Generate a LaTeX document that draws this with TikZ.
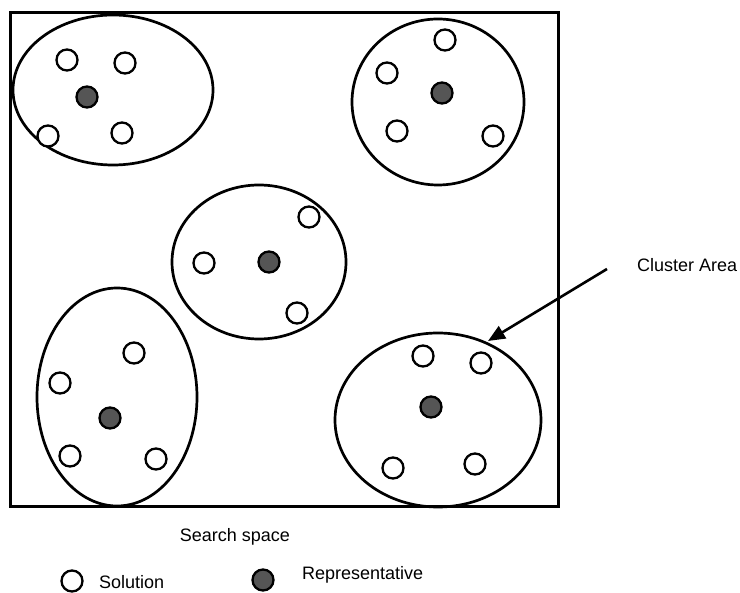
\documentclass[tikz,border=0pt]{standalone}
\usepackage{fontspec}
\setmainfont{Liberation Sans}
\usetikzlibrary{shapes.geometric,arrows.meta}
\tikzset{
  sol/.style={circle,draw,line width=2.3pt,fill=white,minimum size=21pt,inner sep=0pt},
  rep/.style={circle,draw,line width=2.3pt,fill=repgray,minimum size=21pt,inner sep=0pt},
  clus/.style={ellipse,draw,line width=2.7pt,inner sep=0pt},
  lbl/.style={font=\fontsize{18}{20}\selectfont,inner sep=0pt}
}
\definecolor{repgray}{HTML}{555555}
\begin{document}
\begin{tikzpicture}[x=1pt,y=-1pt]
\useasboundingbox (0,0) rectangle (740,593);
\node[draw,line width=3pt,minimum width=548pt,minimum height=494pt,inner sep=0pt] (space) at (284,260) {};
% cluster 1
\node[clus,minimum width=200pt,minimum height=150pt] (c1) at (113,90) {};
\node[sol] (s11) at (67,60) {};
\node[sol] (s12) at (125,63) {};
\node[rep] (r1) at (87,97) {};
\node[sol] (s13) at (48,136) {};
\node[sol] (s14) at (122,133) {};
% cluster 2
\node[clus,minimum width=172pt,minimum height=166pt] (c2) at (438,102) {};
\node[sol] (s21) at (445,40) {};
\node[sol] (s22) at (387,73) {};
\node[rep] (r2) at (442,93) {};
\node[sol] (s23) at (397,131) {};
\node[sol] (s24) at (493,136) {};
% cluster 3
\node[clus,minimum width=174pt,minimum height=154pt] (c3) at (259,262) {};
\node[sol] (s31) at (309,217) {};
\node[sol] (s32) at (204,263) {};
\node[rep] (r3) at (269,262) {};
\node[sol] (s33) at (297,313) {};
% cluster 4
\node[clus,minimum width=160pt,minimum height=218pt] (c4) at (117,397) {};
\node[sol] (s41) at (134,353) {};
\node[sol] (s42) at (60,383) {};
\node[rep] (r4) at (110,418) {};
\node[sol] (s43) at (70,456) {};
\node[sol] (s44) at (156,459) {};
% cluster 5
\node[clus,minimum width=206pt,minimum height=174pt] (c5) at (438,420) {};
\node[sol] (s51) at (423,356) {};
\node[sol] (s52) at (481,363) {};
\node[rep] (r5) at (431,407) {};
\node[sol] (s53) at (393,468) {};
\node[sol] (s54) at (475,464) {};
% arrow and labels
\node[lbl,anchor=west] (ca) at (637,265) {Cluster Area};
\coordinate (aS) at (607,269);
\coordinate (aE) at (488,341);
\draw[line width=2.6pt,-{Triangle[length=17pt,width=14pt]}] (aS) -- (aE);
\node[lbl] (ss) at (235,537) {Search space};
\node[sol] (ls) at (72,581) {};
\node[lbl,anchor=west] (lst) at (99,582) {Solution};
\node[rep] (lr) at (263,580) {};
\node[lbl,anchor=west] (lrt) at (302,575) {Representative};
\end{tikzpicture}
\end{document}
